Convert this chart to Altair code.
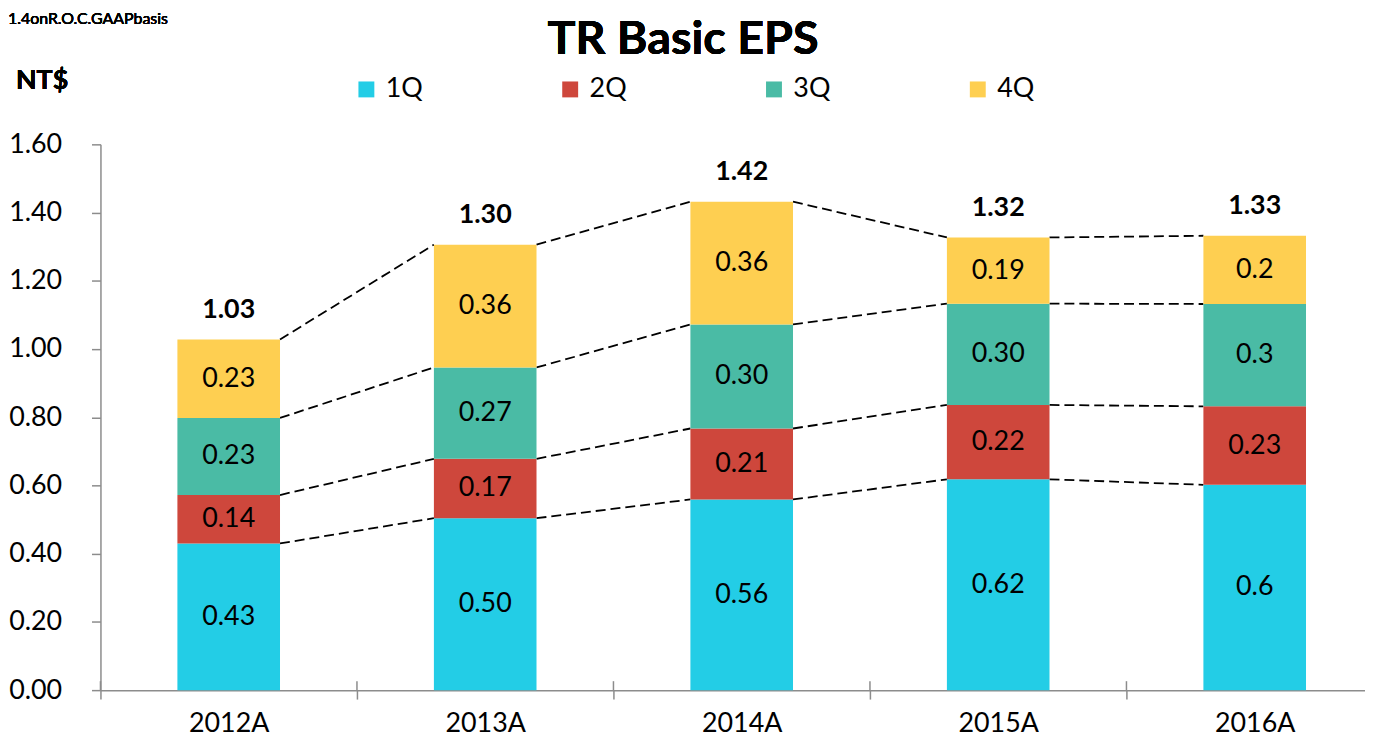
import altair as alt
import pandas as pd

# ---- data ----
years = ["2012A", "2013A", "2014A", "2015A", "2016A"]
quarters = ["1Q", "2Q", "3Q", "4Q"]
q1 = [0.430, 0.504, 0.559, 0.618, 0.602]
q2 = [0.142, 0.174, 0.208, 0.218, 0.230]
q3 = [0.226, 0.268, 0.305, 0.297, 0.300]
q4 = [0.230, 0.360, 0.360, 0.194, 0.200]
q1_labels = ["0.43", "0.50", "0.56", "0.62", "0.6"]
q2_labels = ["0.14", "0.17", "0.21", "0.22", "0.23"]
q3_labels = ["0.23", "0.27", "0.30", "0.30", "0.3"]
q4_labels = ["0.23", "0.36", "0.36", "0.19", "0.2"]
total_labels = ["1.03", "1.30", "1.42", "1.32", "1.33"]
y_ticks = [0.0, 0.2, 0.4, 0.6, 0.8, 1.0, 1.2, 1.4, 1.6]
colors = ["#23CDE6", "#CE473C", "#4ABBA5", "#FECF51"]

series = [q1, q2, q3, q4]
series_labels = [q1_labels, q2_labels, q3_labels, q4_labels]
rows = []
for qi, q in enumerate(quarters):
    for i, y in enumerate(years):
        rows.append({"year": y, "idx": i, "quarter": q, "qi": qi,
                     "value": series[qi][i], "label": series_labels[qi][i],
                     "total_label": total_labels[i]})
df = pd.DataFrame(rows)
cats = pd.DataFrame({"year": years, "idx": list(range(len(years)))})

FONT = "Lato"
AXC = "#8C8C8C"
xscale = alt.Scale(domain=[-0.5, len(years) - 0.57], nice=False, zero=False)
yscale = alt.Scale(domain=[0, 1.6], nice=False)

x_tick_vals = []
for i in range(len(years)):
    x_tick_vals += [i - 0.5, i]
years_js = "[" + ",".join("'" + y + "'" for y in years) + "]"
label_expr = "datum.value % 1 == 0 ? " + years_js + "[datum.value] : ''"

x_axis = alt.Axis(values=x_tick_vals,
                  labelExpr=label_expr,
                  tickOpacity={"condition": {"test": "datum.value % 1 != 0", "value": 1}, "value": 0},
                  tickSize=9, tickWidth=1.5, tickColor=AXC, domainColor=AXC, domainWidth=1.5,
                  labelFont=FONT, labelFontSize=27, labelColor="black", labelPadding=12,
                  grid=False, title=None, labelFlush=False, labelOverlap=False)
y_axis = alt.Axis(values=y_ticks, format=".2f", tickSize=9, tickWidth=1.5, tickColor=AXC,
                  domainColor=AXC, domainWidth=1.5, labelFont=FONT, labelFontSize=27,
                  labelColor="black", labelPadding=30, grid=False, title=None)

base = alt.Chart(df)
stacked = base.transform_stack(
    stack="value", groupby=["year"], as_=["y0", "y1"],
    sort=[alt.SortField("qi", order="ascending")]
)

bars = stacked.transform_calculate(
    xl="datum.idx - 0.2", xr="datum.idx + 0.2"
).mark_bar().encode(
    x=alt.X("xl:Q", scale=xscale, axis=x_axis, title=None),
    x2="xr:Q",
    y=alt.Y("y0:Q", scale=yscale, axis=y_axis, title=None),
    y2="y1:Q",
    color=alt.Color("quarter:N",
                    scale=alt.Scale(domain=quarters, range=colors),
                    legend=alt.Legend(orient="none", legendX=254, legendY=-69,
                                      direction="horizontal", columns=4, title=None,
                                      symbolType="square", symbolSize=256,
                                      symbolStrokeWidth=0, labelFont=FONT,
                                      labelFontSize=27, labelColor="black",
                                      labelOffset=6, columnPadding=134, padding=0)),
)

seg_labels = stacked.transform_calculate(
    ym="(datum.y0 + datum.y1) / 2"
).mark_text(font=FONT, fontSize=27, color="black", baseline="middle").encode(
    x=alt.X("idx:Q", scale=xscale, title=None),
    y=alt.Y("ym:Q", scale=yscale, title=None),
    text="label:N",
)

connectors = stacked.transform_window(
    ny="lead(y1)", groupby=["quarter"], sort=[alt.SortField("idx")]
).transform_filter("datum.ny != null").transform_calculate(
    xa="datum.idx + 0.2", xb="datum.idx + 0.8"
).mark_rule(color="black", strokeWidth=1.8, strokeDash=[10, 5]).encode(
    x=alt.X("xa:Q", scale=xscale, title=None),
    x2="xb:Q",
    y=alt.Y("y1:Q", scale=yscale, title=None),
    y2="ny:Q",
)

totals = base.transform_aggregate(
    total="sum(value)", groupby=["year", "idx", "total_label"]
).mark_text(font=FONT, fontSize=27, fontWeight="bold", color="black",
            baseline="alphabetic", dy=-22).encode(
    x=alt.X("idx:Q", scale=xscale, title=None),
    y=alt.Y("total:Q", scale=yscale, title=None),
    text="total_label:N",
)

cross_ticks = alt.Chart(cats).transform_calculate(
    b="datum.idx - 0.5"
).mark_rule(color=AXC, strokeWidth=1.5).encode(
    x=alt.X("b:Q", scale=xscale, title=None),
    y=alt.value(540), y2=alt.value(549),
)

title = alt.Chart(cats).mark_text(
    text="TR Basic EPS", font=FONT, fontSize=47, fontWeight="bold", color="black",
    align="center", baseline="alphabetic"
).encode(x=alt.value(586), y=alt.value(-91))

unit = alt.Chart(cats).mark_text(
    text="NT$", font=FONT, fontSize=27, fontWeight="bold", color="black",
    align="left", baseline="alphabetic"
).encode(x=alt.value(-85), y=alt.value(-56))

note = alt.Chart(cats).mark_text(
    text="1.4onR.O.C.GAAPbasis", font=FONT, fontSize=16, color="black",
    align="left", baseline="alphabetic"
).encode(x=alt.value(-93), y=alt.value(-121))

chart = alt.layer(connectors, bars, seg_labels, totals, cross_ticks, title, unit, note).properties(
    width=1272, height=549,
    padding={"left": 93, "top": 135, "right": 0, "bottom": 47},
    autosize=alt.AutoSizeParams(type="none"),
    background="white",
).configure_view(stroke=None)

chart.save("out.html", embed_options={"renderer": "svg", "actions": False})
